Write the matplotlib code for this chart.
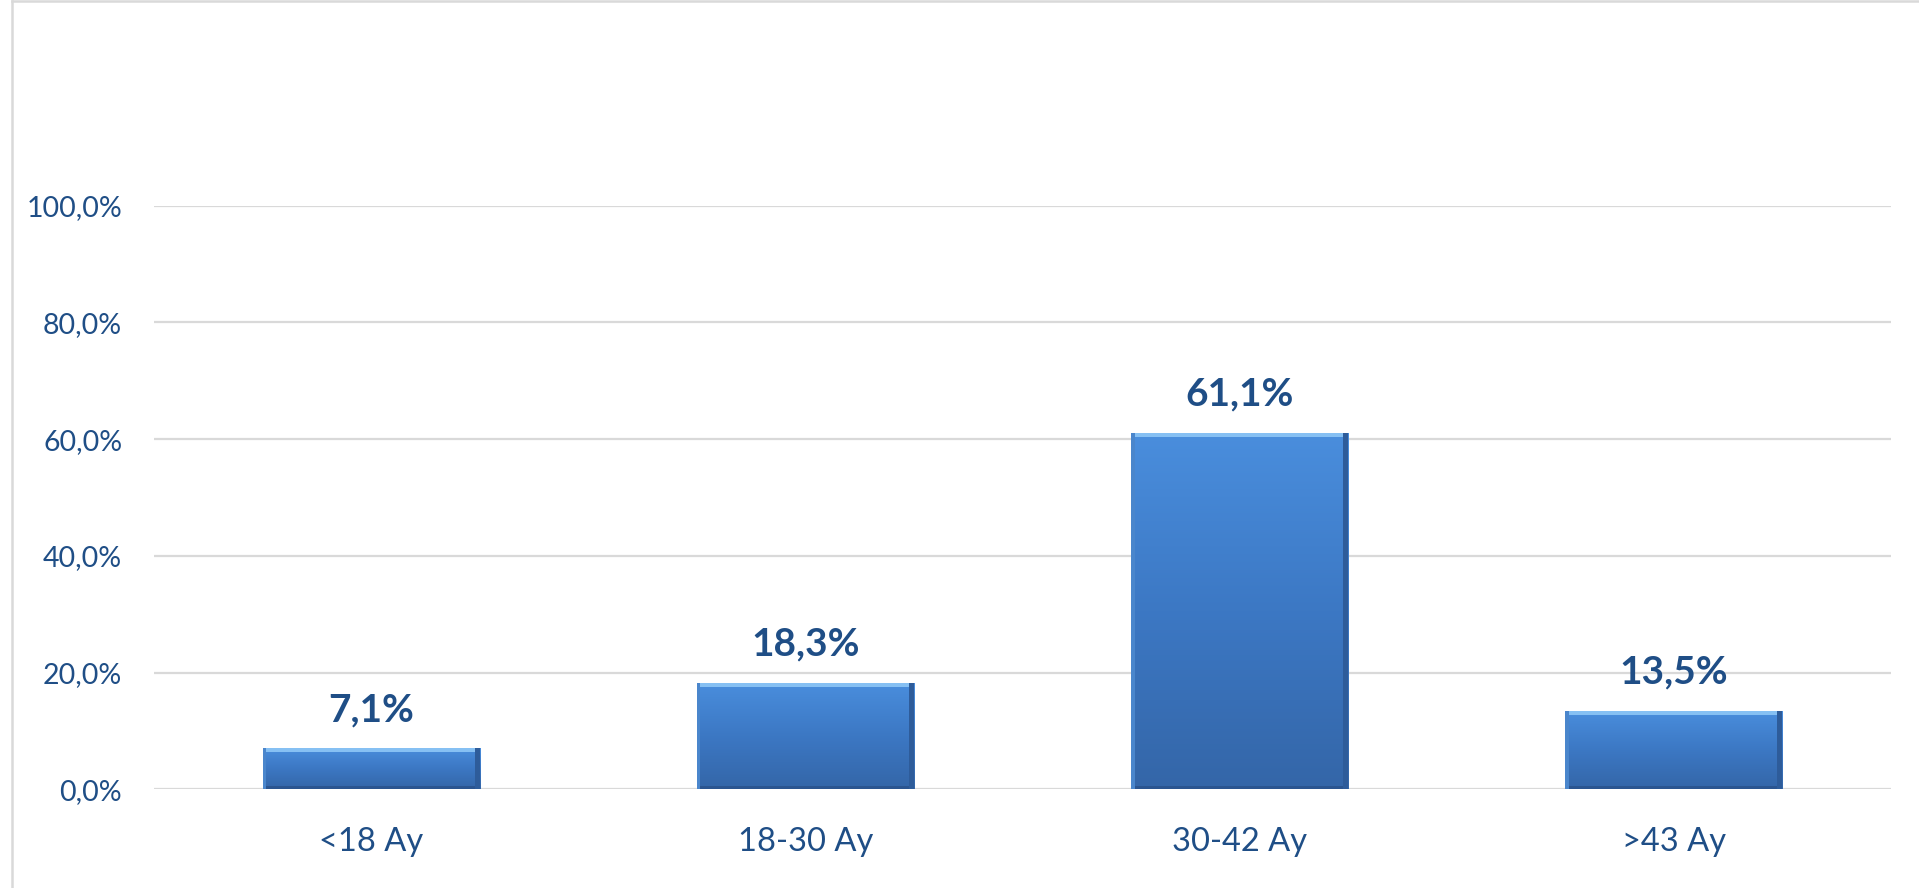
import numpy as np
import matplotlib
matplotlib.use('Agg')
import matplotlib.pyplot as plt
from matplotlib.lines import Line2D
from matplotlib.colors import LinearSegmentedColormap

# data
categories = ['<18 Ay', '18-30 Ay', '30-42 Ay', '>43 Ay']
values = [7.1, 18.3, 61.1, 13.5]
yticks = [0, 20, 40, 60, 80, 100]

text_col = '#1F4E86'
grid_col = '#D9D9D9'

plt.rcParams['font.family'] = ['Lato', 'DejaVu Sans']

fig = plt.figure(figsize=(19.19, 8.88), dpi=100)
ax = fig.add_axes([0.0803, 0.1110, 0.9051, 0.6575])

x = np.arange(len(categories))
bars = ax.bar(x, values, width=0.5, color='#3F7DC8', zorder=2)

# gradient fill for a bevelled look
grad = LinearSegmentedColormap.from_list('bar', ['#3466A8', '#3C78C4', '#4A8EDD'])
for b in bars:
    x0, y0 = b.get_x(), b.get_y()
    w, h = b.get_width(), b.get_height()
    img = np.linspace(0, 1, 256).reshape(-1, 1)
    im = ax.imshow(img, cmap=grad, origin='lower', aspect='auto',
                   extent=(x0, x0 + w, y0, y0 + h), zorder=3)
    im.set_clip_path(b)
    # top highlight and bottom / side shade
    ax.fill_between([x0, x0 + w], y0 + h - 0.7, y0 + h, color='#86C0F3', zorder=4, lw=0)
    ax.fill_between([x0, x0 + w], y0, y0 + 0.6, color='#2B5590', zorder=4, lw=0)
    ax.fill_between([x0 + w - 0.012, x0 + w], y0, y0 + h, color='#2E5C9A', zorder=4, lw=0)
    ax.fill_between([x0, x0 + 0.008], y0, y0 + h, color='#4A86CC', zorder=4, lw=0)

for xi, v in zip(x, values):
    ax.annotate(f'{v:.1f}%'.replace('.', ','), (xi, v), xytext=(0, 15),
                textcoords='offset points', ha='center', va='bottom',
                fontsize=28, fontweight='bold', color=text_col)

ax.set_xlim(-0.5, len(categories) - 0.5)
ax.set_ylim(0, 100)
ax.set_yticks(yticks)
ax.set_yticklabels([f'{t:.1f}%'.replace('.', ',') for t in yticks])
ax.set_xticks(x)
ax.set_xticklabels(categories)
ax.tick_params(axis='y', length=0, pad=23, labelsize=20.5, labelcolor=text_col)
ax.tick_params(axis='x', length=0, pad=27, labelsize=23.5, labelcolor=text_col)
ax.grid(axis='y', color=grid_col, lw=1.6, zorder=0)
ax.set_axisbelow(True)
for s in ax.spines.values():
    s.set_visible(False)

# chart area border (left and top visible)
W, H = 1919, 888
fig.add_artist(Line2D([11.5 / W, 11.5 / W], [0, 1 - 1.5 / H], color=grid_col, lw=1.8))
fig.add_artist(Line2D([11.5 / W, 1], [1 - 1.5 / H, 1 - 1.5 / H], color=grid_col, lw=1.8))

fig.savefig('out.png', dpi=100, facecolor='white')
